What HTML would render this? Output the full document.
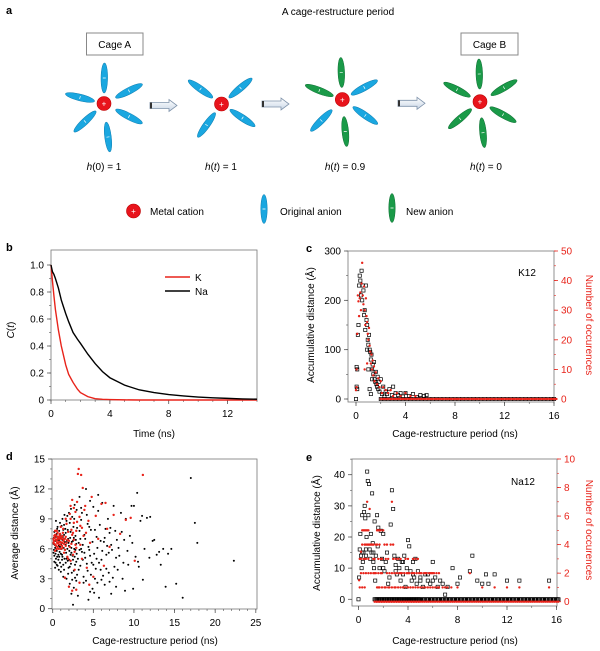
<!DOCTYPE html>
<html><head><meta charset="utf-8"><style>
body{margin:0;background:#fff;}
svg{display:block;font-family:"Liberation Sans",Arial,sans-serif;}
</style></head><body>
<svg id="fig" width="600" height="651" viewBox="0 0 600 651" xmlns="http://www.w3.org/2000/svg">
<defs>
<linearGradient id="arrg" x1="0" y1="0" x2="0" y2="1"><stop offset="0" stop-color="#ffffff"/><stop offset="1" stop-color="#c9d6e6"/></linearGradient>
</defs>
<g id="panelA">
<text x="6" y="14" font-size="11" font-weight="bold">a</text>
<text x="338" y="15" font-size="10" text-anchor="middle">A cage-restructure period</text>
<rect x="86.5" y="33" width="56.5" height="22" fill="#fff" stroke="#888"/>
<text x="114.7" y="48" font-size="10" text-anchor="middle">Cage A</text>
<rect x="461" y="33" width="57" height="22" fill="#fff" stroke="#888"/>
<text x="489.5" y="48" font-size="10" text-anchor="middle">Cage B</text>
<text x="104" y="170" font-size="10" text-anchor="middle"><tspan font-style="italic">h</tspan>(0) = 1</text>
<text x="221" y="170" font-size="10" text-anchor="middle"><tspan font-style="italic">h</tspan>(<tspan font-style="italic">t</tspan>) = 1</text>
<text x="345" y="170" font-size="10" text-anchor="middle"><tspan font-style="italic">h</tspan>(<tspan font-style="italic">t</tspan>) = 0.9</text>
<text x="486" y="170" font-size="10" text-anchor="middle"><tspan font-style="italic">h</tspan>(<tspan font-style="italic">t</tspan>) = 0</text>
<g id="legA">
<circle cx="133.5" cy="211" r="7" fill="#e8141c" stroke="#b00" stroke-width="0.6"/>
<text x="133.5" y="214" font-size="8" fill="#fff" text-anchor="middle">+</text>
<text x="150" y="215" font-size="10">Metal cation</text>
<ellipse cx="264" cy="209" rx="3.2" ry="14.5" fill="#1aa7e0" stroke="#0d7db0" stroke-width="0.5"/>
<line x1="262.5" y1="209" x2="265.5" y2="209" stroke="#fff" stroke-width="0.8"/>
<text x="280" y="215" font-size="10">Original anion</text>
<ellipse cx="392" cy="208" rx="3.2" ry="14.5" fill="#1a9a48" stroke="#0e6e33" stroke-width="0.5"/>
<line x1="390.5" y1="208" x2="393.5" y2="208" stroke="#fff" stroke-width="0.8"/>
<text x="406" y="215" font-size="10">New anion</text>
</g>
</g>
<g id="panelB"></g>
<g id="panelC"></g>
<g id="panelD"></g>
<g id="panelE"></g>
</svg>
<script>
// ---------- data ----------
const bTime = [0,0.1,0.2,0.3,0.5,0.7,0.85,1,1.2,1.5,1.8,2,2.5,3,3.5,4,5,6,7,8,9,10,11,12,13,14];
const bK =    [1.0,0.88,0.77,0.67,0.52,0.40,0.33,0.26,0.19,0.13,0.08,0.055,0.025,0.01,0.005,0.003,0.001,0,0,0,0,0,0,0,0,0];
const bNa =   [1.0,0.95,0.93,0.90,0.83,0.74,0.69,0.64,0.58,0.50,0.45,0.42,0.34,0.27,0.21,0.165,0.11,0.075,0.055,0.04,0.03,0.022,0.016,0.012,0.008,0.006];
const bXTicks = [0,4,8,12];
const bYTicks = [0,0.2,0.4,0.6,0.8,1.0];
const bYLabels = ["0","0.2","0.4","0.6","0.8","1.0"];

const cXTicks = [0,4,8,12,16];
const cYTicksL = [0,100,200,300];
const cYTicksR = [0,10,20,30,40,50];
const cBlackX = [0,0.05,0.1,0.15,0.2,0.25,0.3,0.35,0.4,0.45,0.5,0.55,0.6,0.65,0.7,0.75,0.8,0.85,0.9,0.95,1.0,1.05,1.1,1.15,1.2,1.25,1.3,1.35,1.4,1.45,1.5,1.55,1.6,1.65,1.7,1.75,1.8,1.85,1.9,2.0,2.1,2.2,2.3,2.4,2.5,2.7,2.9,3.0,3.2,3.4,3.6,3.8,4.0,4.3,4.6,4.9,5.2,5.5,5.7,0.9,1.0,1.3,1.1,1.2,0.05,0.1];
const cBlackY = [0,25,60,130,150,230,250,240,210,260,200,230,220,170,180,140,230,160,150,120,110,130,100,95,80,90,60,70,50,75,40,35,55,30,25,45,20,35,15,40,10,25,5,15,10,20,8,25,12,8,12,5,12,6,10,4,8,6,8,100,60,40,20,10,65,20];
const cRedX = [0,0.05,0.1,0.15,0.2,0.25,0.3,0.35,0.4,0.45,0.5,0.55,0.6,0.65,0.7,0.75,0.8,0.85,0.9,0.95,1.0,1.05,1.1,1.15,1.2,1.25,1.3,1.35,1.4,1.45,1.5,1.6,1.7,1.8,1.9,2.0,2.1,2.2,2.4,2.6,2.8,3.0,3.3,3.6,4.0,4.4,4.8,0.7,0.9,0.05];
const cRedY = [3,10,22,35,33,28,34,36,30,39,46,35,32,38,30,25,34,28,26,22,20,24,18,16,12,15,10,13,8,11,6,9,5,7,4,6,2,4,3,2,3,1,2,1,2,1,1,10,12,4];
const cZeroX = [2.0,2.3,2.6,2.9,3.2,3.5,3.8,4.1,4.4,4.7,5.0,5.3,5.6,5.9,6.2,6.5,6.8,7.1,7.4,7.7,8.0,8.3,8.6,8.9,9.2,9.5,9.8,10.1,10.4,10.7,11.0,11.3,11.6,11.9,12.2,12.5,12.8,13.1,13.4,13.7,14.0,14.3,14.6,14.9,15.2,15.5,15.8,16.0];

const dXTicks = [0,5,10,15,20,25];
const dYTicks = [0,3,6,9,12,15];
const dBlack = [[0.2,5.3],[0.3,6.1],[0.4,7.2],[0.5,5.8],[0.6,6.6],[0.7,4.9],[0.8,7.8],[0.9,6.2],[1.0,5.5],[1.1,8.3],[1.2,6.9],[1.3,4.4],[1.4,7.4],[1.5,5.9],[1.6,6.4],[1.7,8.8],[1.8,5.1],[1.9,7.0],[2.0,6.3],[2.1,4.2],[2.2,7.7],[2.3,5.6],[2.4,9.2],[2.5,6.8],[2.6,3.8],[2.7,5.2],[2.8,7.3],[2.9,4.7],[3.0,8.1],[0.3,6.8],[0.5,7.5],[0.7,5.4],[0.9,4.6],[1.1,6.0],[1.3,7.9],[1.5,6.7],[1.7,5.0],[1.9,3.5],[2.1,8.6],[2.3,6.1],[2.5,4.9],[2.7,10.4],[2.9,6.5],[0.4,5.0],[0.6,8.2],[0.8,6.9],[1.0,7.1],[1.2,5.2],[1.4,3.9],[1.6,7.6],[1.8,6.0],[2.0,9.6],[2.2,5.4],[2.4,2.9],[2.6,7.1],[2.8,5.9],[3.0,3.4],[0.1,5.6],[0.2,7.7],[0.6,4.3],[1.0,3.7],[0.4,8.8],[1.2,9.0],[0.8,5.2],[1.6,4.6],[2.0,4.9],[0.3,4.1],[1.4,8.4],[1.8,9.3],[0.1,6.5],
[0.15,5.9],[0.25,6.4],[0.35,5.5],[0.45,6.0],[0.55,5.2],[0.65,6.9],[0.75,6.3],[0.85,5.7],[0.95,7.4],[1.05,6.5],[1.15,5.4],[1.25,7.2],[1.35,6.1],[1.45,5.0],[1.55,8.0],[1.65,5.6],[1.75,6.8],[1.85,4.8],[1.95,6.6],[2.05,5.8],[2.15,7.1],[2.25,4.5],[2.35,6.7],[2.45,5.3],[2.55,8.2],[2.65,6.0],[2.75,4.4],[2.85,6.9],[2.95,5.5],[0.2,4.7],[0.5,4.4],[0.9,8.6],[1.3,3.2],[1.7,3.0],[2.1,2.5],[2.9,2.8],[0.15,7.1],[0.55,8.0],[1.05,4.2],[1.45,9.4],[1.85,7.9],[2.25,10.0],[2.65,9.0],[2.95,9.9],[0.35,4.6],[0.75,3.9],[1.15,4.9],[1.95,4.1],[2.35,3.6],[2.75,3.1],
[3.2,6.6],[3.4,4.3],[3.5,8.9],[3.6,5.7],[3.8,2.6],[3.9,7.4],[4.0,5.1],[4.2,9.4],[4.3,3.8],[4.4,6.2],[4.6,1.7],[4.7,7.9],[4.8,4.6],[5.0,10.2],[5.1,5.5],[5.2,3.0],[5.4,7.2],[5.5,6.1],[5.7,1.1],[5.8,8.4],[6.0,4.9],[6.1,10.6],[6.3,6.7],[6.4,2.4],[6.6,5.4],[6.8,9.0],[6.9,3.6],[7.0,7.6],[7.2,1.5],[7.3,5.9],[7.5,10.3],[7.6,4.2],[7.8,2.2],[7.9,6.9],[3.3,11.2],[4.1,12.0],[4.9,2.0],[5.6,9.8],[6.2,3.3],[7.1,8.1],[3.7,4.9],[4.5,8.2],[5.3,4.0],[6.7,6.3],[2.3,1.5],[2.5,0.4],[3.1,1.3],[4.4,0.9],[3.5,6.0],[4.0,7.0],[4.6,5.3],[5.0,4.4],[3.3,7.8],[3.8,3.2],[4.3,8.5],[5.5,2.6],[6.5,8.0],[2.6,2.1],[3.6,9.6],[5.9,6.8],
[3.1,5.0],[3.3,5.9],[3.4,7.0],[3.7,6.4],[3.9,5.6],[4.2,4.5],[4.5,5.9],[4.7,3.4],[4.9,6.7],[5.2,7.9],[5.4,5.0],[5.7,4.6],[5.9,3.9],[6.1,5.8],[6.4,7.1],[6.6,4.0],[6.9,5.6],[7.2,6.4],[7.4,3.1],[7.7,7.8],[8.1,6.1],[3.2,3.9],[4.1,2.8],[5.1,1.6],[6.0,2.9],[3.5,10.1],[4.6,10.8],[5.6,11.4],[7.0,2.7],[7.8,5.1],
[8.2,5.3],[8.4,9.6],[8.6,3.0],[8.8,6.9],[9.0,9.0],[9.3,4.4],[9.5,7.3],[9.7,10.3],[9.9,2.0],[10.2,5.2],[10.4,11.6],[10.5,4.7],[10.8,8.8],[11.0,9.3],[11.1,2.9],[11.3,6.0],[11.6,9.1],[12.0,9.2],[12.3,6.8],[12.8,5.4],[13.1,5.7],[13.3,4.4],[13.6,6.0],[13.9,2.2],[14.2,5.5],[14.6,6.0],[15.2,2.5],[16.0,1.1],[17.0,13.1],[17.5,8.6],[17.8,6.6],[22.3,4.8],[8.9,1.8],[9.8,6.6],[8.0,3.9],[10.0,10.3],[12.5,6.9],[8.5,7.7],[9.2,5.8],[10.6,4.2],[11.9,5.1],[8.7,4.6]];
const dRed = [[0.1,7.0],[0.2,6.5],[0.3,7.4],[0.4,6.9],[0.5,7.8],[0.6,6.2],[0.7,7.1],[0.8,6.7],[0.9,7.5],[1.0,6.0],[1.1,7.2],[1.2,6.6],[1.3,8.0],[1.4,5.6],[1.5,7.0],[1.6,6.3],[1.7,8.5],[1.8,5.2],[1.9,7.7],[2.0,6.8],[2.1,9.5],[2.2,4.8],[2.3,7.9],[2.4,10.9],[2.5,5.4],[2.6,8.6],[2.7,3.9],[2.8,9.7],[2.9,6.1],[3.0,10.7],[3.1,13.5],[3.2,14.0],[3.3,2.6],[3.4,8.3],[3.5,13.4],[3.6,5.0],[3.7,12.1],[3.8,7.3],[4.0,10.3],[4.2,4.1],[4.4,8.8],[4.6,6.6],[4.8,11.2],[5.0,3.2],[5.3,9.3],[5.6,7.0],[6.0,10.5],[6.3,4.3],[6.7,8.0],[7.0,6.2],[7.5,9.4],[8.3,7.5],[9.0,8.9],[9.6,9.1],[10.1,4.8],[11.1,13.4],[0.3,5.8],[0.6,7.6],[0.9,6.4],[1.2,7.3],[1.5,5.9],[1.8,6.9],[2.1,6.2],[2.4,7.4],[2.7,5.7],[3.0,8.7],[2.0,2.2],[2.4,1.8],[1.5,3.1],[2.2,9.0],[1.0,8.2],[0.5,6.0],[0.8,7.0],[1.4,6.5],[1.9,5.0],[3.9,9.9],[4.5,2.4],[2.9,1.9],[6.5,10.6],[0.2,7.3],[0.4,6.3],[0.6,7.0],[0.7,6.5],[0.9,7.2],[1.1,6.6],[1.3,7.0],[1.6,7.2],[0.1,6.6],[0.3,7.8],[0.5,6.8],[1.2,6.1],[1.7,6.6],[2.3,6.5],[2.6,6.9],[3.4,6.4],
[0.15,6.8],[0.25,7.1],[0.35,6.4],[0.45,7.3],[0.55,6.6],[0.65,7.2],[0.75,6.0],[0.85,7.4],[0.95,6.7],[1.05,7.0],[1.15,6.3],[1.25,7.6],[1.35,6.8],[2.5,7.6],[2.8,6.4],[3.3,9.2],[2.2,10.3],[2.6,10.1],[3.6,8.1],[4.1,7.6],[1.6,9.0],[2.9,7.8]];

const eXTicks = [0,4,8,12,16];
const eYTicksL = [0,10,20,30,40];
const eYTicksR = [0,2,4,6,8,10];
const eBlack = [[0.05,7],[0.1,16],[0.15,21],[0.2,14],[0.25,10],[0.3,27],[0.35,12],[0.4,15],[0.45,28],[0.5,30],[0.55,26],[0.6,14],[0.65,20],[0.7,41],[0.75,38],[0.8,27],[0.85,37],[0.9,16],[0.95,13],[1.0,21],[1.05,15],[1.1,34],[1.15,18],[1.2,12],[1.25,10],[1.3,25],[1.35,6],[1.4,14],[1.5,27],[1.55,17],[1.6,23],[1.7,10],[1.8,22],[1.9,13],[2.0,21],[2.1,9],[2.2,12],[2.3,15],[2.4,5],[2.5,7],[2.6,24],[2.7,35],[2.8,29],[2.9,14],[3.0,11],[3.1,8],[3.2,13],[3.3,10],[3.4,6],[3.5,12],[3.6,8],[3.7,14],[3.8,4],[3.9,10],[4.0,19],[4.1,17],[4.2,9],[4.3,6],[4.4,12],[4.5,7],[4.6,13],[4.7,5],[4.8,9],[5.0,7],[5.2,4],[5.4,8],[5.6,6],[5.8,5],[6.0,12],[6.2,7],[6.4,4],[6.6,6],[6.8,5],[7.0,1.5],[7.2,4],[7.6,10],[8.0,5],[8.2,7],[9.0,9],[9.2,14],[9.6,6],[10.0,5],[10.3,8],[10.5,5],[11.0,8],[12.0,6],[13.0,6],[15.4,6],[0,0],[0.3,15],[0.6,16],[1.2,15],[2.0,10],[3.0,9],[3.6,12],[4.4,8],[5.0,6],[5.6,8],[6.0,6]];
const eRed = [[0.05,1.5],[0.1,3],[0.2,3.5],[0.3,4],[0.4,5],[0.5,3],[0.6,4],[0.7,7],[0.8,5],[0.9,6.5],[1.0,2],[1.1,4],[1.2,3],[1.3,2],[1.4,4],[1.5,5],[1.6,1],[1.7,4],[1.8,3],[1.9,2],[2.0,5],[2.1,1],[2.2,3],[2.3,2],[2.4,1],[2.6,4],[2.7,7],[2.8,3],[2.9,2],[3.0,1],[3.2,3],[3.4,2],[3.6,1],[3.8,3],[4.0,2],[4.2,1],[4.4,2],[4.6,3],[4.8,1],[5.0,2],[5.2,1],[5.4,2],[5.6,1],[5.8,2],[6.0,2],[6.2,1],[6.5,1],[7.0,1],[7.5,1],[8.0,1],[9.0,2],[10,1],[11,1],[12,1],[13,1],[15.4,1],
[0.2,2],[0.4,2],[0.6,2],[0.8,2],[1.2,2],[1.4,2],[1.6,2],[1.8,2],[2.5,2],[2.7,2],[3.1,2],[3.3,2],[3.5,2],[3.7,2],[3.9,2],[4.1,2],[4.3,2],[4.5,2],[4.7,2],[4.9,2],[5.1,2],[5.3,2],[5.5,2],[5.7,2],[5.9,2],[6.1,2],[6.3,2],[6.5,2],
[0.1,1],[0.3,1],[0.5,1],[1.5,1],[1.7,1],[1.9,1],[2.2,1],[2.5,1],[2.7,1],[2.9,1],[3.2,1],[3.4,1],[3.6,1],[3.8,1],[4.0,1],[4.2,1],[4.4,1],[4.6,1],[5.0,1],[5.4,1],[5.8,1],[6.0,1],[6.4,1],[6.8,1],[7.2,1],
[0.2,3],[0.4,3],[0.6,3],[0.8,3],[1.3,3],[1.6,3],[1.9,3],[2.4,3],[3.0,3],[3.4,3],[4.0,3],[4.4,3],[4.8,3],
[0.3,5],[0.5,5],[0.6,5],[0.7,5],[1.6,5],[1.7,5],[1.8,5],[0.5,4],[0.7,4],[0.8,4],[0.9,4],[1.0,4],[1.2,4],[1.5,4],[2.1,4],[2.3,4],[2.8,4]];
const eZeroX = [1.3,1.5,1.7,1.9,2.1,2.3,2.5,2.7,2.9,3.1,3.3,3.5,3.7,3.9,4.1,4.3,4.5,4.7,4.9,5.2,5.5,5.8,6.1,6.4,6.7,7.0,7.3,7.6,7.9,8.2,8.5,8.8,9.1,9.4,9.7,10.0,10.3,10.6,10.9,11.2,11.5,11.8,12.1,12.4,12.7,13.0,13.3,13.6,13.9,14.2,14.5,14.8,15.1,15.4,15.7,16.0];

// schematic anion layout (dx, dy from cation centre; colour: o=original, n=new)
const cations = [[104,103.5],[221.5,104],[342.3,99.5],[480,101.7]];
const anions = [
 [[0.3,-25.5,'o'],[-24,-6,'o'],[25,-12.6,'o'],[-19,18,'o'],[25,13,'o'],[4,33.5,'o']],
 [[-21,-15,'o'],[19,-16,'o'],[-15,21,'o'],[21,14,'o']],
 [[-1,-27,'n'],[-23,-9,'n'],[22,-12,'o'],[-21,21,'o'],[23,16,'o'],[3,32,'n']],
 [[-0.7,-27.7,'n'],[-23,-12,'n'],[24,-14,'n'],[-20,17,'n'],[23,13,'n'],[3,31,'n']]
];
const arrowsX = [[150,177,105.5],[262,289,104],[398,425,103.3]];

// ---------- helpers ----------
const NS='http://www.w3.org/2000/svg';
function mk(parent, tag, attrs, txt){const e=document.createElementNS(NS,tag);for(const k in attrs)e.setAttribute(k,attrs[k]);if(txt!==undefined)e.textContent=txt;parent.appendChild(e);return e;}
function lin(d0,d1,r0,r1){return v=>r0+(v-d0)*(r1-r0)/(d1-d0);}

// ---------- schematic ----------
(function(){
 const g=document.getElementById('panelA');
 cations.forEach((c,i)=>{
  anions[i].forEach((a,j)=>{
   const ang=Math.atan2(a[1],a[0])*180/Math.PI-90;
   const cx=c[0]+a[0], cy=c[1]+a[1];
   const blue=a[2]==='o';
   const el=mk(g,'ellipse',{cx:cx,cy:cy,rx:3.3,ry:15,fill:blue?'#1aa7e0':'#1a9a48',stroke:blue?'#0d7db0':'#0e6e33','stroke-width':0.5,transform:`rotate(${ang} ${cx} ${cy})`});
   
   
   mk(g,'line',{x1:cx-1.5,y1:cy,x2:cx+1.5,y2:cy,stroke:'#fff','stroke-width':0.7,transform:`rotate(${ang} ${cx} ${cy})`});
  });
  const ci=mk(g,'circle',{cx:c[0],cy:c[1],r:7,fill:'#e8141c',stroke:'#b00','stroke-width':0.6});
  
  
  mk(g,'text',{x:c[0],y:c[1]+3,'font-size':8,fill:'#fff','text-anchor':'middle'},'+');
 });
 arrowsX.forEach(a=>{
  const [x0,x1,y]=a; const hx=x1-8;
  const p=mk(g,'polygon',{points:`${x0},${y-3} ${hx},${y-3} ${hx},${y-6} ${x1},${y} ${hx},${y+6} ${hx},${y+3} ${x0},${y+3}`,fill:'url(#arrg)',stroke:'#7f93ab','stroke-width':0.8});
  
  
  mk(g,'rect',{x:x0,y:y-3,width:2,height:6,fill:'#333'});
 });
})();

// ---------- generic axis drawing ----------
function box(g,x0,y0,x1,y1){const r=mk(g,'rect',{x:x0,y:y0,width:x1-x0,height:y1-y0,fill:'none',stroke:'#777','stroke-width':0.8});}
function xAxis(g,ticks,sx,yb,minorStep,min,max){
 ticks.forEach(t=>{mk(g,'line',{x1:sx(t),y1:yb,x2:sx(t),y2:yb+4,stroke:'#555','stroke-width':0.8});
  const tl=mk(g,'text',{x:sx(t),y:yb+17,'font-size':10,'text-anchor':'middle'},String(t));
  });
 if(minorStep)for(let v=min;v<=max+1e-9;v+=minorStep)mk(g,'line',{x1:sx(v),y1:yb,x2:sx(v),y2:yb+2,stroke:'#555','stroke-width':0.6});
}
function yAxis(g,ticks,labels,sy,xl,minorStep,min,max,color,right){
 const dir=right?1:-1;
 ticks.forEach((t,i)=>{mk(g,'line',{x1:xl,y1:sy(t),x2:xl+dir*4,y2:sy(t),stroke:color||'#555','stroke-width':0.8});
  const tl=mk(g,'text',{x:xl+dir*7,y:sy(t)+3.5,'font-size':10,'text-anchor':right?'start':'end',fill:color||'#000'},labels[i]);
  });
 if(minorStep)for(let v=min;v<=max+1e-9;v+=minorStep)mk(g,'line',{x1:xl,y1:sy(v),x2:xl+dir*2,y2:sy(v),stroke:color||'#555','stroke-width':0.6});
}
function title(g,x,y,txt,name,rot,color){
 const t=mk(g,'text',{x:x,y:y,'font-size':10,'text-anchor':'middle',fill:color||'#000',transform:rot?`rotate(${rot} ${x} ${y})`:''},txt);
 return t;
}
function panelLabel(g,x,y,l){const t=mk(g,'text',{x:x,y:y,'font-size':11,'font-weight':'bold'},l);}

// ---------- panel b ----------
(function(){
 const g=document.getElementById('panelB');
 const sx=lin(0,14,51,257), sy=lin(0,1,400,265);
 panelLabel(g,6,251,'b');
 box(g,51,250,257,400);
 xAxis(g,bXTicks,sx,400,1,0,14);
 yAxis(g,bYTicks,bYLabels,sy,51,0.1,0,1.05);
 title(g,154,437,'Time (ns)','x-axis-title');
 const yt=mk(g,'text',{x:14,y:330,'font-size':10,'text-anchor':'middle',transform:'rotate(-90 14 330)'});
 yt.innerHTML='<tspan font-style="italic">C</tspan>(<tspan font-style="italic">t</tspan>)';
 
 const pK=mk(g,'polyline',{points:bTime.map((t,i)=>sx(t)+','+sy(bK[i])).join(' '),fill:'none',stroke:'#e8231a','stroke-width':1.4});
 
 const pN=mk(g,'polyline',{points:bTime.map((t,i)=>sx(t)+','+sy(bNa[i])).join(' '),fill:'none',stroke:'#000','stroke-width':1.4});
 
 mk(g,'line',{x1:165,y1:277,x2:190,y2:277,stroke:'#e8231a','stroke-width':1.4});
 const l1=mk(g,'text',{x:195,y:281,'font-size':10},'K');
 mk(g,'line',{x1:165,y1:291,x2:190,y2:291,stroke:'#000','stroke-width':1.4});
 const l2=mk(g,'text',{x:195,y:295,'font-size':10},'Na');
})();

function sq(g,x,y,name){const r=mk(g,'rect',{x:x-1.6,y:y-1.6,width:3.2,height:3.2,fill:'none',stroke:'#000','stroke-width':0.7});}
function dot(g,x,y,name,col,r){const c=mk(g,'circle',{cx:x,cy:y,r:r||1.2,fill:col||'#e8231a'});}

// ---------- panel c ----------
(function(){
 const g=document.getElementById('panelC');
 const sx=lin(0,16,356,554), syL=lin(0,300,399,251), syR=lin(0,50,399,251);
 panelLabel(g,306,252,'c');
 box(g,348,251,554,402);
 xAxis(g,cXTicks,sx,402,2,0,16);
 yAxis(g,cYTicksL,cYTicksL.map(String),syL,348,50,0,300);
 yAxis(g,cYTicksR,cYTicksR.map(String),syR,554,5,0,50,'#e8231a',true);
 title(g,455,437,'Cage-restructure period (ns)','x-axis-title');
 title(g,314,325,'Accumulative distance (Å)','y-axis-title-left',-90);
 title(g,586,325,'Number of occurences','y-axis-title-right',90,'#e8231a');
 const k=mk(g,'text',{x:527,y:276,'font-size':10,'text-anchor':'middle'},'K12');
 cZeroX.forEach(x=>sq(g,sx(x),syL(0),'zero-point'));
 cBlackX.forEach((x,i)=>sq(g,sx(x),syL(cBlackY[i]),'distance-point'));
 cRedX.forEach((x,i)=>dot(g,sx(x),syR(cRedY[i]),'occurrence-point'));
 cZeroX.forEach(x=>{dot(g,sx(x),syR(0),'occurrence-zero');dot(g,sx(x)+2,syR(0),'occurrence-zero');});
})();

// ---------- panel d ----------
(function(){
 const g=document.getElementById('panelD');
 const sx=lin(0,25,52.7,255.8), sy=lin(0,15,608.7,459);
 panelLabel(g,6,460,'d');
 box(g,52,459,257,609);
 xAxis(g,dXTicks,sx,609,1,0,25);
 yAxis(g,dYTicks,dYTicks.map(String),sy,52,1,0,15);
 title(g,155,644,'Cage-restructure period (ns)','x-axis-title');
 title(g,18,533,'Average distance (Å)','y-axis-title',-90);
 dBlack.forEach(p=>dot(g,sx(p[0]),sy(p[1]),'black-point','#000',1.0));
 dRed.forEach(p=>dot(g,sx(p[0]),sy(p[1]),'red-point','#e8231a',1.2));
})();

// ---------- panel e ----------
(function(){
 const g=document.getElementById('panelE');
 const sx=lin(0,16,358.5,556.5), syL=lin(0,40,599.3,474.7), syR=lin(0,10,601.7,459);
 panelLabel(g,306,461,'e');
 box(g,352,459,557,606);
 xAxis(g,eXTicks,sx,606,2,0,16);
 yAxis(g,eYTicksL,eYTicksL.map(String),syL,352,5,0,45);
 yAxis(g,eYTicksR,eYTicksR.map(String),syR,557,1,0,10,'#e8231a',true);
 title(g,455,644,'Cage-restructure period (ns)','x-axis-title');
 title(g,320,533,'Accumulative distance (Å)','y-axis-title-left',-90);
 title(g,586,530,'Number of occurences','y-axis-title-right',90,'#e8231a');
 const k=mk(g,'text',{x:523,y:485,'font-size':10,'text-anchor':'middle'},'Na12');
 eZeroX.forEach(x=>{sq(g,sx(x),syL(0),'zero-point');sq(g,sx(x)+1,syL(0),'zero-point');sq(g,sx(x)+2,syL(0),'zero-point');});
 eBlack.forEach(p=>sq(g,sx(p[0]),syL(p[1]),'distance-point'));
 eRed.forEach(p=>dot(g,sx(p[0]),syR(p[1]),'occurrence-point'));
 eZeroX.forEach(x=>{dot(g,sx(x),syR(0),'occurrence-zero');dot(g,sx(x)+1.8,syR(0),'occurrence-zero');});
})();
</script>
</body></html>
